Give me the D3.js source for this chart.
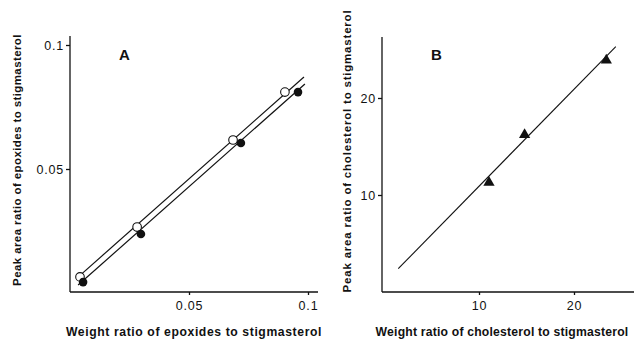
<!DOCTYPE html>
<html>
<head>
<meta charset="utf-8">
<script src="https://cdn.jsdelivr.net/npm/d3@7"></script>
<style>
body { margin: 0; background: #fff; }
svg text { font-family: "Liberation Sans", Arial, sans-serif; fill: #111; }
.axis path, .axis line { stroke: #111; stroke-width: 1.3; }
.axis text { font-size: 12.5px; letter-spacing: 0.8px; }
.lbl { font-size: 11.5px; font-weight: bold; letter-spacing: 0.4px; }
.xlbl { font-size: 12.2px; font-weight: bold; letter-spacing: 0.6px; }
.tag { font-size: 15px; font-weight: bold; }
</style>
</head>
<body>
<svg id="chart" width="638" height="339"></svg>
<script>
// panel A: epoxides
var openX = [0.0042, 0.0282, 0.0685, 0.0903];
var openY = [0.0065, 0.0266, 0.0617, 0.0810];
var fillX = [0.0055, 0.0298, 0.0718, 0.0958];
var fillY = [0.0044, 0.0238, 0.0605, 0.0810];
var openLineX = [0.0029, 0.0983];
var openLineY = [0.0060, 0.0871];
var fillLineX = [0.0034, 0.0987];
var fillLineY = [0.0032, 0.0843];
var ticksAX = [0.05, 0.1];
var ticksAY = [0.05, 0.1];

// panel B: cholesterol
var triX = [11.05, 14.8, 23.4];
var triY = [11.3, 16.2, 23.9];
var lineBX = [1.5, 24.4];
var lineBY = [2.4, 25.3];
var ticksBX = [10, 20];
var ticksBY = [10, 20];

var svg = d3.select('#chart');

function zip(a, b){
	return a.map(function(d, i){ return [d, b[i]]; });
}

var fmtA = function(d){ return d == 0.1 ? '0.1' : d3.format('.2f')(d); };

// ---- panel A ----
var xA = d3.scaleLinear().domain([0, 0.1]).range([70, 308]);
var yA = d3.scaleLinear().domain([0, 0.1]).range([293, 45]);
var gA = svg.append('g');

gA.append('g').attr('class', 'axis')
	.attr('transform', 'translate(0,292)')
	.call(d3.axisBottom(xA).tickValues(ticksAX).tickSize(3).tickPadding(6).tickFormat(fmtA))
	.call(function(g){ g.select('.domain').attr('d', 'M70,0H318'); });
gA.append('g').attr('class', 'axis')
	.attr('transform', 'translate(70,0)')
	.call(d3.axisLeft(yA).tickValues(ticksAY).tickSize(4).tickPadding(2).tickFormat(fmtA))
	.call(function(g){ g.select('.domain').attr('d', 'M0,36V292'); });

var line = function(sx, sy){
	return d3.line().x(function(d){ return sx(d[0]); }).y(function(d){ return sy(d[1]); });
};
gA.append('path').attr('d', line(xA, yA)(zip(openLineX, openLineY)))
	.attr('fill', 'none').attr('stroke', '#111').attr('stroke-width', 1.2);
gA.append('path').attr('d', line(xA, yA)(zip(fillLineX, fillLineY)))
	.attr('fill', 'none').attr('stroke', '#111').attr('stroke-width', 1.2);

gA.selectAll('.open').data(zip(openX, openY)).enter()
	.append('circle').attr('class', 'open')
	.attr('cx', function(d){ return xA(d[0]); })
	.attr('cy', function(d){ return yA(d[1]); })
	.attr('r', 4.3)
	.attr('fill', '#fff').attr('stroke', '#111').attr('stroke-width', 1.1);
gA.selectAll('.filled').data(zip(fillX, fillY)).enter()
	.append('circle').attr('class', 'filled')
	.attr('cx', function(d){ return xA(d[0]); })
	.attr('cy', function(d){ return yA(d[1]); })
	.attr('r', 4.3)
	.attr('fill', '#111');

gA.append('text').attr('class', 'tag').attr('x', 119).attr('y', 60).text('A');
gA.append('text').attr('class', 'xlbl').attr('x', 194).attr('y', 336)
	.attr('text-anchor', 'middle').text('Weight ratio of epoxides to stigmasterol');
gA.append('text').attr('class', 'lbl')
	.attr('transform', 'translate(21,160) rotate(-90)')
	.attr('text-anchor', 'middle').text('Peak area ratio of epoxides to stigmasterol');

// ---- panel B ----
var xB = d3.scaleLinear().domain([0, 10]).range([384, 479]);
var yB = d3.scaleLinear().domain([0, 10]).range([292, 195]);
var gB = svg.append('g');

gB.append('g').attr('class', 'axis')
	.attr('transform', 'translate(0,292)')
	.call(d3.axisBottom(xB).tickValues(ticksBX).tickSize(3).tickPadding(6))
	.call(function(g){ g.select('.domain').attr('d', 'M382,0H634'); });
gB.append('g').attr('class', 'axis')
	.attr('transform', 'translate(382,0)')
	.call(d3.axisLeft(yB).tickValues(ticksBY).tickSize(4).tickPadding(2))
	.call(function(g){ g.select('.domain').attr('d', 'M0,37V292'); });

gB.append('path').attr('d', line(xB, yB)(zip(lineBX, lineBY)))
	.attr('fill', 'none').attr('stroke', '#111').attr('stroke-width', 1.1);

gB.selectAll('.tri').data(zip(triX, triY)).enter()
	.append('path').attr('class', 'tri')
	.attr('d', d3.symbol().type(d3.symbolTriangle).size(55))
	.attr('transform', function(d){ return 'translate(' + xB(d[0]) + ',' + yB(d[1]) + ')'; })
	.attr('fill', '#111');

gB.append('text').attr('class', 'tag').attr('x', 431).attr('y', 60).text('B');
gB.append('text').attr('class', 'xlbl').style('letter-spacing', '0.2px')
	.attr('x', 502).attr('y', 336)
	.attr('text-anchor', 'middle').text('Weight ratio of cholesterol to stigmasterol');
gB.append('text').attr('class', 'lbl').style('letter-spacing', '0.8px')
	.attr('transform', 'translate(351,151) rotate(-90)')
	.attr('text-anchor', 'middle').text('Peak area ratio of cholesterol to stigmasterol');
</script>
</body>
</html>
